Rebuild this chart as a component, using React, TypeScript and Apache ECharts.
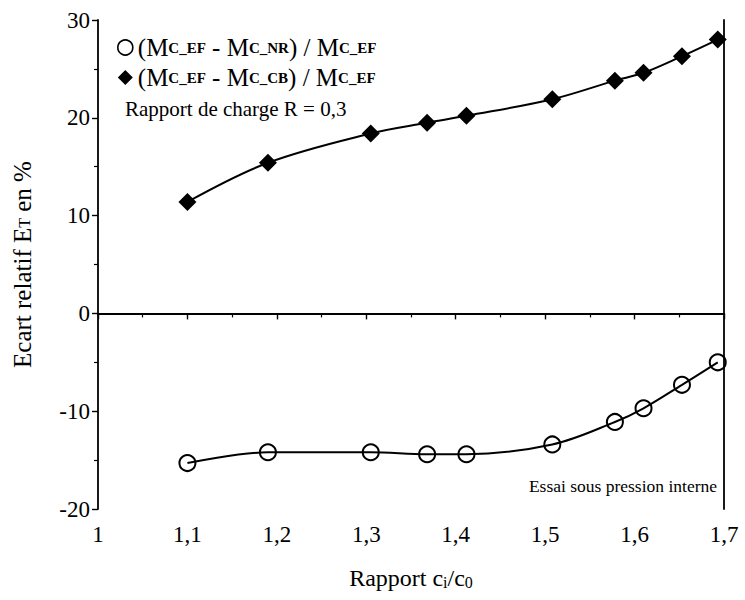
import React, { useEffect, useRef } from "react";
import * as echarts from "echarts";

const xRatio = [1.1, 1.19, 1.305, 1.368, 1.412, 1.508, 1.578, 1.61, 1.653, 1.693];
const ecartNR = [-15.3, -14.2, -14.2, -14.4, -14.4, -13.4, -11.1, -9.7, -7.3, -5.0];
const ecartCB = [11.4, 15.4, 18.4, 19.5, 20.2, 21.9, 23.8, 24.6, 26.3, 28.0];
const seriesNames = ["NR", "CB"];
const xTicks = [1, 1.1, 1.2, 1.3, 1.4, 1.5, 1.6, 1.7];
const yTicks = [-20, -10, 0, 10, 20, 30];

const FONT = "Liberation Serif";

export default function App() {
  const ref = useRef<HTMLDivElement>(null);
  useEffect(() => {
    if (!ref.current) return;
    const chart = echarts.init(ref.current, undefined, { renderer: "svg" });
    const nr = xRatio.map((x, i) => [x, ecartNR[i]]);
    const cb = xRatio.map((x, i) => [x, ecartCB[i]]);
    const rich = {
      a: { fontFamily: FONT, fontSize: 25, color: "#000" },
      b: { fontFamily: FONT, fontSize: 15, color: "#000", fontWeight: "bold" as const },
    };
    chart.setOption({
      animation: false,
      backgroundColor: "#fff",
      textStyle: { fontFamily: FONT },
      grid: { left: 98, right: 21, top: 20, bottom: 91, containLabel: false, outerBoundsMode: "none" },
      legend: {
        orient: "vertical",
        left: 112,
        top: 30,
        itemGap: 5,
        itemWidth: 15,
        itemHeight: 15,
        textStyle: { fontFamily: FONT, fontSize: 25, color: "#000", rich },
        data: [
          { name: "NR", icon: "circle", itemStyle: { color: "#fff", borderColor: "#000", borderWidth: 1.6 } },
          { name: "CB", icon: "diamond", itemStyle: { color: "#000", borderColor: "#000", borderWidth: 0 } },
        ],
        formatter: (name: string) =>
          name === "NR"
            ? "{a|(M}{b|C_EF}{a| - M}{b|C_NR}{a|) / M}{b|C_EF}"
            : "{a|(M}{b|C_EF}{a| - M}{b|C_CB}{a|) / M}{b|C_EF}",
      },
      xAxis: [
        {
          type: "value",
          min: 1,
          max: 1.7,
          interval: 0.1,
          position: "bottom",
          name: "{a|Rapport c}{s|i}{a|/c}{s|0}",
          nameLocation: "middle",
          nameGap: 57,
          nameTextStyle: {
            rich: {
              a: { fontFamily: FONT, fontSize: 24, color: "#000" },
              s: { fontFamily: FONT, fontSize: 16, color: "#000", padding: [8, 0, 0, 0] },
            },
          },
          axisLine: { show: true, lineStyle: { color: "#000", width: 1.8 } },
          axisTick: { show: true, length: 6, lineStyle: { color: "#000", width: 1.4 } },
          minorTick: { show: true, splitNumber: 2, length: 4, lineStyle: { color: "#000", width: 1.2 } },
          splitLine: { show: false },
          axisLabel: {
            margin: 14,
            fontFamily: FONT,
            fontSize: 23,
            color: "#000",
            formatter: (v: number) => {
              const t = xTicks.find((k) => Math.abs(k - v) < 1e-6);
              return t === undefined ? "" : String(t).replace(".", ",");
            },
          },
        },
        {
          type: "value",
          min: 1,
          max: 1.7,
          interval: 0.1,
          position: "top",
          axisLine: { show: true, lineStyle: { color: "#000", width: 1.8 } },
          axisTick: { show: false },
          axisLabel: { show: false },
          splitLine: { show: false },
        },
      ],
      yAxis: [
        {
          type: "value",
          min: -20,
          max: 30,
          interval: 10,
          position: "left",
          name: "{a|Ecart relatif E}{s|T}{a| en %}",
          nameLocation: "middle",
          nameGap: 63,
          nameRotate: 90,
          nameTextStyle: {
            rich: {
              a: { fontFamily: FONT, fontSize: 25, color: "#000" },
              s: { fontFamily: FONT, fontSize: 16, color: "#000", padding: [4, 0, 0, 0] },
            },
          },
          axisLine: { show: true, lineStyle: { color: "#000", width: 1.8 } },
          axisTick: { show: true, length: 6, lineStyle: { color: "#000", width: 1.4 } },
          minorTick: { show: true, splitNumber: 2, length: 4, lineStyle: { color: "#000", width: 1.2 } },
          splitLine: { show: false },
          axisLabel: {
            margin: 8,
            fontFamily: FONT,
            fontSize: 23,
            color: "#000",
            formatter: (v: number) => (yTicks.includes(v) ? String(v) : ""),
          },
        },
        {
          type: "value",
          min: -20,
          max: 30,
          interval: 10,
          position: "right",
          axisLine: { show: true, lineStyle: { color: "#000", width: 1.8 } },
          axisTick: { show: false },
          axisLabel: { show: false },
          splitLine: { show: false },
        },
      ],
      graphic: [
        {
          type: "text",
          left: 125,
          top: 98,
          style: { text: "Rapport de charge R = 0,3", fontFamily: FONT, fontSize: 21, fill: "#000" },
        },
        {
          type: "text",
          right: 28,
          top: 477,
          style: { text: "Essai sous pression interne", fontFamily: FONT, fontSize: 17.5, fill: "#000" },
        },
      ],
      series: [
        {
          name: seriesNames[0],
          type: "line",
          data: nr,
          smooth: 0.35,
          symbol: "circle",
          symbolSize: 16,
          itemStyle: { color: "rgba(255,255,255,0)", borderColor: "#000", borderWidth: 2 },
          lineStyle: { color: "#000", width: 2 },
          z: 3,
          markLine: {
            silent: true,
            symbol: "none",
            label: { show: false },
            lineStyle: { color: "#000", width: 1.5, type: "solid" },
            data: [{ yAxis: 0 }],
          },
        },
        {
          name: seriesNames[1],
          type: "line",
          data: cb,
          smooth: 0.35,
          symbol: "diamond",
          symbolSize: 18,
          itemStyle: { color: "#000", borderColor: "#000", borderWidth: 0 },
          lineStyle: { color: "#000", width: 2 },
          z: 3,
        },
      ],
    });
    return () => chart.dispose();
  }, []);
  return (
    <div
      ref={ref}
      style={{ position: "fixed", left: 0, top: 0, width: 745, height: 600, background: "#fff" }}
    />
  );
}
